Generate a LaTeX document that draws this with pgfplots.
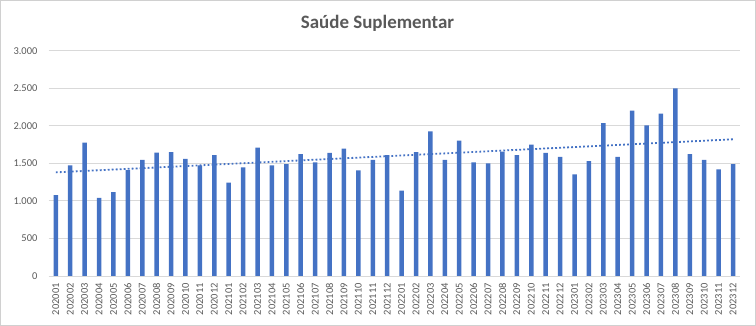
\documentclass[border=0pt]{standalone}
\usepackage{pgfplots}
\usepackage{pgfplotstable}
\pgfplotsset{compat=1.18}
\usepackage{fontspec}
\setmainfont{Carlito}
\definecolor{barblue}{HTML}{4472C4}
\definecolor{gridgray}{HTML}{D9D9D9}
\definecolor{textgray}{HTML}{595959}
\definecolor{framegray}{HTML}{D0D0D0}
\pgfplotstableread{
x val
0 1078
1 1474
2 1775
3 1039
4 1118
5 1411
6 1545
7 1642
8 1651
9 1558
10 1474
11 1611
12 1243
13 1447
14 1709
15 1474
16 1491
17 1624
18 1514
19 1638
20 1696
21 1407
22 1545
23 1611
24 1136
25 1651
26 1926
27 1545
28 1802
29 1514
30 1500
31 1656
32 1611
33 1749
34 1638
35 1585
36 1354
37 1531
38 2037
39 1585
40 2201
41 2006
42 2162
43 2499
44 1624
45 1545
46 1420
47 1491
}\datatable
\begin{document}
\begin{tikzpicture}
\useasboundingbox (0,0) rectangle (756bp,326bp);
\draw[framegray, line width=1bp] (0.5bp,0.5bp) rectangle (755.5bp,325.5bp);
\node[anchor=base, font=\fontsize{19}{22}\selectfont\bfseries, text=textgray] at (377.5bp,297.7bp) {Saúde Suplementar};
\begin{axis}[
  at={(48.6bp,50bp)}, anchor=south west,
  scale only axis, width=691.6bp, height=225.3bp,
  xmin=-0.5, xmax=47.5, ymin=0, ymax=3000,
  ybar, bar width=4.5bp,
  axis line style={draw=none},
  major tick length=0pt,
  ytick={0,500,...,3000},
  ymajorgrids, grid style={gridgray, line width=0.8bp},
  xtick={0,...,47},
  xticklabels={202001,202002,202003,202004,202005,202006,202007,202008,202009,202010,202011,202012,202101,202102,202103,202104,202105,202106,202107,202108,202109,202110,202111,202112,202201,202202,202203,202204,202205,202206,202207,202208,202209,202210,202211,202212,202301,202302,202303,202304,202305,202306,202307,202308,202309,202310,202311,202312},
  tick label style={font=\fontsize{10.5}{12}\selectfont, text=textgray},
  xticklabel style={rotate=90, anchor=east, inner sep=0pt},
  xticklabel shift=7bp,
  yticklabel style={anchor=east, inner sep=0pt},
  yticklabel shift=11bp,
  /pgf/number format/assume math mode=true,
  /pgf/number format/1000 sep={.},
  scaled y ticks=false,
  clip=false,
]
\addplot[fill=barblue, draw=none] table[x=x, y=val] {\datatable};
\addplot[sharp plot, barblue, line width=1.8bp, dash pattern=on 1.8bp off 2.2bp] coordinates {(0,1380) (47,1820)};
\end{axis}
\end{tikzpicture}
\end{document}
